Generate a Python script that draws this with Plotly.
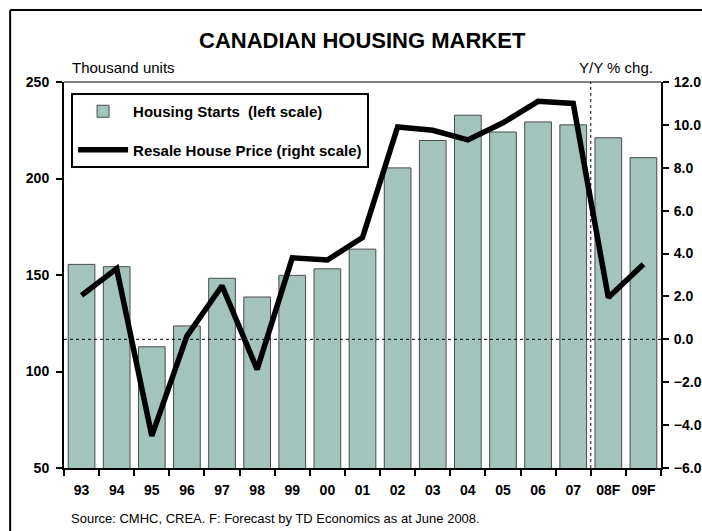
import plotly.graph_objects as go

categories = ["93", "94", "95", "96", "97", "98", "99", "00", "01", "02",
              "03", "04", "05", "06", "07", "08F", "09F"]
housing_starts = [155.5, 154.3, 112.8, 123.6, 148.3, 138.6, 149.8, 153.2, 163.4,
                  205.5, 219.7, 232.8, 224.1, 229.3, 227.8, 221.1, 210.8]
resale_price = [2.05, 3.3, -4.5, 0.15, 2.5, -1.4, 3.8, 3.7, 4.75,
                9.9, 9.75, 9.3, 10.1, 11.1, 11.0, 1.95, 3.5]

left_ticks = [50, 100, 150, 200, 250]
right_ticks = [-6, -4, -2, 0, 2, 4, 6, 8, 10, 12]

FONT = "Liberation Sans, Arial, sans-serif"

S = 714 / 702  # horizontal page scale
W, H = 714, 531
L = round(63 * S)
R = W - round(661 * S)
T, B = 82, 63
pw, ph = W - L - R, H - T - B


def px(x):
    return (x * S - L) / pw


def py(y):
    return (H - B - y) / ph


fig = go.Figure()
fig.add_trace(go.Bar(
    x=categories, y=housing_starts, name="Housing Starts  (left scale)",
    marker=dict(color="#A2C4BD", line=dict(color="#4a4a4a", width=1)),
    legendgroup="a", yaxis="y",
))
fig.add_trace(go.Scatter(
    x=categories, y=resale_price, name="Resale House Price (right scale)",
    mode="lines", line=dict(color="black", width=5.5),
    legendgroup="b", yaxis="y2",
))

fig.update_layout(
    width=W, height=H,
    margin=dict(l=L, r=R, t=T, b=B),
    paper_bgcolor="white", plot_bgcolor="white",
    font=dict(family=FONT, color="black"),
    bargap=0.24,
    showlegend=True,
    legend=dict(
        x=px(70), y=py(93), xanchor="left", yanchor="top",
        bgcolor="white", bordercolor="black", borderwidth=2,
        font=dict(family=FONT, size=15, color="black", weight="bold"),
        tracegroupgap=16, traceorder="grouped",
        itemwidth=50,
    ),
    xaxis=dict(
        type="category", showline=True, linecolor="black", linewidth=2,
        ticks="outside", tickson="boundaries", ticklen=6, tickwidth=1.5,
        tickcolor="black", ticklabelstandoff=8,
        tickfont=dict(family=FONT, size=14, weight="bold"),
        showgrid=False, zeroline=False, range=[-0.5, 16.5],
    ),
    yaxis=dict(
        range=[50, 250], tickvals=left_ticks, showline=True, linecolor="black",
        linewidth=2, ticks="outside", ticklen=6, tickwidth=1.5, tickcolor="black",
        tickfont=dict(family=FONT, size=14, weight="bold"),
        showgrid=False, zeroline=False, ticklabelstandoff=4,
    ),
    yaxis2=dict(
        range=[-6, 12], tickvals=right_ticks, tickformat=".1f",
        overlaying="y", side="right", showline=True, linecolor="black",
        linewidth=2, ticks="outside", ticklen=6, tickwidth=1.5, tickcolor="black",
        tickfont=dict(family=FONT, size=14, weight="bold"),
        showgrid=False, zeroline=False, ticklabelstandoff=2,
    ),
    shapes=[
        dict(type="line", xref="paper", yref="paper", x0=0, x1=1, y0=1, y1=1,
             line=dict(color="black", width=1.2)),
        dict(type="line", xref="paper", yref="y2", x0=0, x1=1, y0=0, y1=0,
             line=dict(color="black", width=1, dash="dot"), layer="above"),
        dict(type="line", xref="x", yref="paper", x0=14.5, x1=14.5, y0=0, y1=1,
             line=dict(color="black", width=1, dash="dot"), layer="above"),
        dict(type="line", xref="paper", yref="paper",
             x0=px(9), x1=px(702), y0=py(10), y1=py(10),
             line=dict(color="black", width=2)),
        dict(type="line", xref="paper", yref="paper",
             x0=px(9), x1=px(9), y0=py(10), y1=py(531),
             line=dict(color="black", width=2)),
    ],
    annotations=[
        dict(text="<b>CANADIAN HOUSING MARKET</b>", xref="paper", yref="paper",
             x=px(362), y=py(40), xanchor="center", yanchor="middle",
             showarrow=False, font=dict(family=FONT, size=22)),
        dict(text="Thousand units", xref="paper", yref="paper",
             x=px(69), y=py(67), xanchor="left", yanchor="middle",
             showarrow=False, font=dict(family=FONT, size=15)),
        dict(text="Y/Y % chg.", xref="paper", yref="paper",
             x=px(655), y=py(67), xanchor="right", yanchor="middle",
             showarrow=False, font=dict(family=FONT, size=15)),
        dict(text="Source: CMHC, CREA. F: Forecast by TD Economics as at June 2008.",
             xref="paper", yref="paper", x=px(68), y=py(518),
             xanchor="left", yanchor="middle", showarrow=False,
             font=dict(family=FONT, size=13)),
    ],
)

fig.write_html(
    "out.html",
    config={"displayModeBar": False},
    post_script=(
        "document.documentElement.style.overflow='hidden';"
        "document.body.style.margin='0px';"
        "document.body.style.overflow='hidden';"
    ),
)
